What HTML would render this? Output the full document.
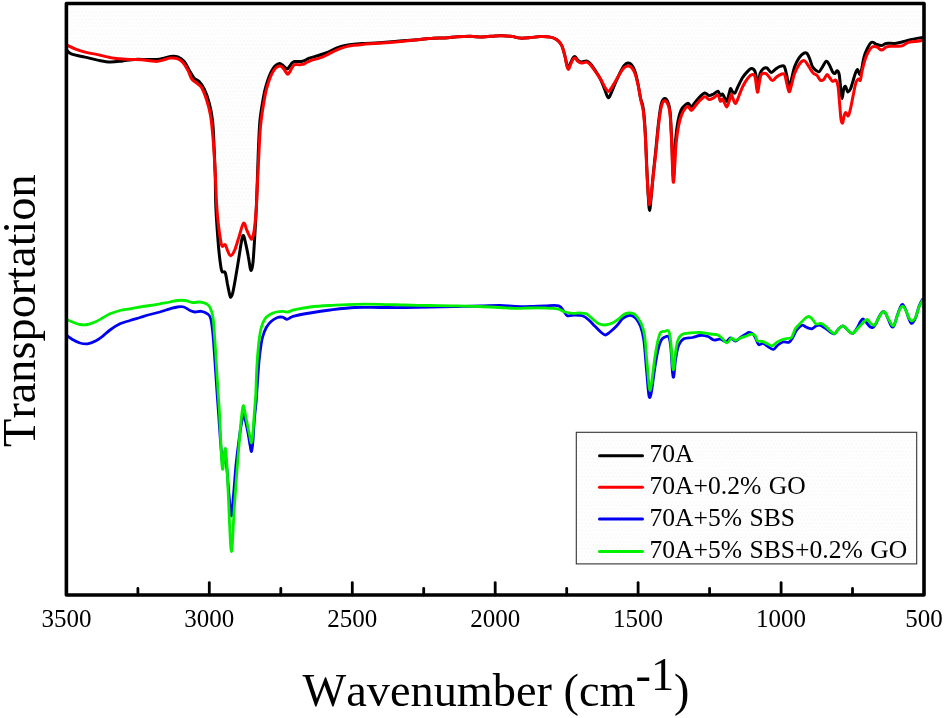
<!DOCTYPE html>
<html><head><meta charset="utf-8"><title>FTIR spectra</title>
<style>
html,body{margin:0;padding:0;background:#fff;}
body{width:944px;height:718px;overflow:hidden;}
svg{display:block;font-kerning:none;font-family:"Liberation Serif",serif;}
.c{fill:none;stroke-width:3;stroke-linejoin:round;stroke-linecap:round;}
</style></head><body>
<svg width="944" height="718" viewBox="0 0 944 718">
<rect width="944" height="718" fill="#fff"/>
<defs><pattern id="st" width="3.6" height="7.2" patternUnits="userSpaceOnUse"><rect width="3.6" height="7.2" fill="#fefefe"/><rect x="0.6" y="0.8" width="1" height="1.2" fill="#f4f2f2"/><rect x="2.4" y="4.4" width="1" height="1.2" fill="#f4f2f2"/></pattern></defs>
<path d="M66.8,45.1C68.2,45.7 72.0,47.6 75.0,48.8C78.0,50.0 81.3,51.1 85.1,52.1C88.9,53.1 93.4,53.7 97.6,54.6C101.8,55.5 106.0,56.9 110.2,57.6C114.4,58.4 118.5,58.8 122.7,59.1C126.9,59.4 131.0,59.4 135.2,59.6C139.4,59.8 144.2,60.1 147.8,60.4C151.4,60.7 154.1,61.4 156.6,61.4C159.1,61.4 160.5,60.6 162.8,60.1C165.1,59.6 167.9,58.3 170.4,58.1C172.9,57.9 175.8,58.1 177.9,58.9C180.0,59.6 181.2,60.7 182.9,62.6C184.6,64.5 186.4,67.5 187.9,70.2C189.4,72.9 190.2,76.7 191.7,78.9C193.2,81.1 195.0,81.7 196.7,83.2C198.4,84.7 200.0,84.9 201.7,87.7C203.4,90.5 205.2,95.7 206.7,100.3C208.2,104.9 209.4,109.0 210.5,115.3C211.6,121.6 212.2,128.5 213.0,137.9C213.8,147.3 214.6,160.7 215.2,172.0C215.8,183.3 216.1,196.7 216.7,205.7C217.2,214.7 217.8,219.9 218.5,225.8C219.2,231.8 220.2,238.0 220.8,241.4C221.4,244.8 221.6,245.8 222.3,246.3C223.0,246.9 224.3,243.8 225.2,244.7C226.1,245.5 227.0,249.6 227.9,251.4C228.8,253.2 229.5,256.0 230.6,255.8C231.7,255.6 233.2,253.5 234.6,250.3C236.0,247.2 237.5,241.4 239.0,236.9C240.5,232.4 242.2,224.2 243.5,223.1C244.8,222.0 245.7,227.8 246.8,230.2C247.9,232.6 249.3,236.0 250.2,237.4C251.1,238.8 251.3,239.9 252.0,238.7C252.7,237.5 253.5,234.9 254.2,230.2C254.9,225.4 255.6,218.6 256.2,210.2C256.8,201.8 257.2,188.4 257.6,180.0C258.0,171.6 258.1,169.1 258.6,160.0C259.1,150.9 259.6,135.4 260.6,125.3C261.6,115.2 263.3,105.6 264.4,99.3C265.4,93.0 265.9,91.2 266.9,87.5C267.9,83.8 269.2,80.1 270.3,77.3C271.4,74.5 272.6,72.2 273.7,70.5C274.8,68.8 276.0,67.6 277.1,66.9C278.2,66.2 279.5,65.9 280.5,66.1C281.5,66.3 282.2,67.0 283.1,68.0C284.0,69.0 284.8,70.8 285.6,71.8C286.4,72.8 287.0,74.3 287.7,74.3C288.4,74.3 289.0,73.0 289.8,71.8C290.6,70.6 291.5,68.3 292.4,67.1C293.2,65.9 293.8,65.1 294.9,64.7C296.0,64.3 297.8,64.8 299.2,64.7C300.6,64.6 302.0,64.7 303.4,64.2C304.8,63.8 306.1,62.7 307.6,62.0C309.2,61.3 311.0,60.5 312.7,59.9C314.4,59.3 316.1,59.1 317.8,58.6C319.5,58.1 321.1,57.6 322.9,56.9C324.7,56.1 326.1,55.3 328.5,54.1C330.9,52.9 334.2,51.0 337.0,49.8C339.8,48.6 342.6,47.6 345.4,46.9C348.2,46.1 351.1,45.7 353.9,45.3C356.7,44.9 359.7,44.6 362.4,44.4C365.1,44.1 366.6,44.0 370.0,43.8C373.4,43.6 378.3,43.3 382.5,43.0C386.7,42.7 390.8,42.4 395.0,42.0C399.2,41.6 403.3,41.2 407.5,40.8C411.7,40.4 415.8,39.9 420.0,39.5C424.2,39.1 428.3,38.5 432.5,38.3C436.7,38.0 440.8,38.2 445.0,38.0C449.2,37.8 453.3,37.1 457.5,36.8C461.7,36.5 465.8,36.3 470.0,36.3C474.2,36.3 478.3,37.1 482.5,37.0C486.7,36.9 491.7,36.1 495.0,35.9C498.3,35.7 499.6,35.7 502.5,35.8C505.4,35.9 509.7,36.2 512.6,36.6C515.5,37.0 517.2,37.9 520.1,38.1C523.0,38.3 526.8,37.9 530.1,37.6C533.5,37.4 536.9,36.7 540.2,36.6C543.6,36.5 547.5,36.6 550.2,37.1C552.9,37.6 554.6,38.3 556.5,39.6C558.4,40.9 560.1,42.5 561.5,45.1C562.9,47.7 563.8,51.8 564.7,55.1C565.6,58.4 566.1,62.7 566.7,65.1C567.3,67.5 567.8,69.6 568.5,69.4C569.2,69.2 570.0,65.7 570.8,63.9C571.6,62.1 572.5,59.9 573.3,58.9C574.0,57.9 574.5,57.7 575.3,58.1C576.0,58.5 576.8,60.6 577.8,61.4C578.8,62.2 580.0,63.0 581.5,63.1C583.0,63.2 585.1,61.9 586.6,62.1C588.1,62.4 588.8,63.0 590.3,64.6C591.8,66.1 593.6,69.0 595.3,71.4C597.0,73.8 598.8,76.3 600.4,78.9C602.0,81.5 603.6,85.1 604.9,87.2C606.2,89.3 607.3,91.4 608.4,91.5C609.5,91.6 610.4,89.4 611.6,87.7C612.8,86.0 613.9,83.9 615.4,81.4C616.9,78.9 618.9,75.0 620.4,72.7C621.9,70.4 623.0,68.8 624.2,67.7C625.5,66.6 626.6,65.9 627.9,65.9C629.1,65.9 630.5,66.4 631.7,67.7C632.9,69.0 634.1,70.8 635.2,73.9C636.3,77.0 637.4,82.0 638.4,86.5C639.4,91.0 640.2,96.9 641.0,101.0C641.8,105.1 642.6,105.5 643.3,111.0C644.0,116.5 644.6,124.5 645.2,134.0C645.8,143.5 646.2,157.9 646.7,168.0C647.2,178.1 647.8,188.7 648.3,194.8C648.8,200.9 649.1,204.8 649.6,204.8C650.1,204.8 650.6,199.8 651.2,194.8C651.8,189.8 652.5,182.5 653.4,174.7C654.2,166.9 655.4,156.9 656.3,148.0C657.2,139.1 658.1,128.3 659.0,121.3C659.9,114.2 660.7,109.1 661.6,105.7C662.5,102.3 663.5,101.0 664.5,100.8C665.5,100.6 667.0,102.2 667.9,104.5C668.8,106.8 669.5,108.1 670.1,114.6C670.7,121.1 671.2,133.1 671.7,143.5C672.2,153.9 672.5,170.7 672.8,177.0C673.1,183.3 673.4,182.9 673.7,181.4C674.0,179.9 674.2,174.3 674.6,168.0C675.0,161.7 675.4,150.6 676.1,143.5C676.8,136.4 677.7,130.5 678.6,125.7C679.5,120.9 680.5,117.6 681.7,114.6C682.9,111.6 684.6,109.2 685.7,107.9C686.8,106.6 687.5,106.3 688.4,106.8C689.3,107.2 690.3,110.6 691.3,110.6C692.3,110.6 693.3,108.4 694.6,106.8C695.9,105.2 697.4,102.9 699.1,101.2C700.8,99.5 703.0,97.0 704.7,96.7C706.4,96.4 707.6,99.2 709.1,99.4C710.6,99.6 712.1,98.6 713.6,97.9C715.1,97.2 716.9,94.5 718.0,95.0C719.1,95.5 719.5,100.5 720.3,101.2C721.0,101.9 721.8,98.6 722.5,99.0C723.2,99.4 724.0,102.1 724.7,103.4C725.4,104.7 726.1,107.2 726.9,106.8C727.6,106.4 728.5,103.2 729.2,101.2C729.9,99.2 730.6,95.0 731.2,94.6C731.8,94.1 732.1,97.0 732.9,98.5C733.6,100.0 734.7,103.9 735.7,103.4C736.7,102.9 737.8,98.6 739.0,95.7C740.2,92.8 741.5,88.9 743.0,86.0C744.5,83.1 746.2,80.1 747.8,78.2C749.3,76.3 751.1,74.8 752.3,74.6C753.5,74.4 754.2,74.4 755.0,76.8C755.8,79.2 756.3,86.6 756.8,89.1C757.3,91.6 757.5,92.9 757.9,91.8C758.3,90.7 758.8,85.3 759.4,82.4C760.0,79.5 760.2,76.1 761.2,74.6C762.2,73.1 764.4,73.1 765.7,73.5C767.0,73.9 767.9,75.6 769.0,76.8C770.1,78.0 771.1,80.6 772.4,80.6C773.7,80.6 775.3,77.9 776.8,76.8C778.3,75.7 780.0,74.6 781.3,74.2C782.6,73.8 783.7,73.0 784.6,74.6C785.5,76.1 786.0,80.6 786.8,83.5C787.5,86.4 788.4,91.4 789.1,91.8C789.9,92.2 790.4,88.8 791.3,85.8C792.2,82.8 793.3,77.0 794.6,73.5C795.9,70.0 797.6,66.8 799.1,64.6C800.6,62.4 802.3,60.8 803.6,60.6C804.9,60.4 805.8,62.1 806.9,63.5C808.0,64.9 809.2,67.3 810.3,69.0C811.4,70.7 812.5,72.5 813.6,73.5C814.7,74.5 815.8,74.2 816.9,75.3C818.0,76.4 819.2,79.5 820.3,80.2C821.4,80.9 822.5,80.6 823.6,79.7C824.7,78.8 826.0,74.9 827.0,74.6C828.0,74.3 829.0,76.9 829.9,78.0C830.8,79.1 831.5,80.9 832.5,81.3C833.5,81.7 835.0,79.3 835.9,80.2C836.8,81.1 837.5,82.8 838.1,86.9C838.7,91.0 839.2,99.3 839.7,104.7C840.2,110.1 840.5,116.2 841.0,119.2C841.5,122.2 842.1,123.5 842.6,123.0C843.1,122.5 843.6,117.7 844.1,115.9C844.6,114.2 845.2,112.5 845.9,112.5C846.6,112.5 847.5,116.5 848.2,115.9C849.0,115.4 849.6,112.6 850.4,109.2C851.2,105.8 852.2,100.3 853.1,95.8C854.0,91.3 855.1,85.2 856.0,82.4C856.9,79.6 857.5,79.5 858.2,79.1C858.9,78.7 859.8,81.5 860.4,80.2C861.0,78.9 861.2,74.6 862.0,71.3C862.8,68.0 863.9,63.3 864.9,60.1C865.9,56.9 866.9,54.5 868.2,52.3C869.5,50.1 871.2,47.6 872.7,46.8C874.2,45.9 875.6,46.7 877.1,47.2C878.6,47.8 880.1,50.1 881.6,50.1C883.1,50.1 884.6,47.8 886.1,47.2C887.6,46.6 888.6,46.4 890.5,46.3C892.4,46.1 895.2,46.4 897.2,46.3C899.2,46.2 900.9,46.3 902.8,45.6C904.6,44.9 906.3,43.0 908.3,42.3C910.3,41.6 912.6,41.9 915.0,41.6C917.4,41.3 921.2,40.7 922.5,40.5L922.5,10L66.8,10Z" fill="url(#st)" stroke="none"/>
<path d="M66.8,319.5C67.8,319.9 70.3,321.2 72.5,322.0C74.7,322.8 77.5,324.1 80.0,324.5C82.5,324.9 85.0,324.9 87.5,324.5C90.0,324.1 92.5,323.1 95.0,322.0C97.5,320.9 100.0,319.4 102.5,318.0C105.0,316.6 107.1,315.1 110.0,313.8C112.9,312.6 116.7,311.3 120.0,310.5C123.3,309.7 126.7,309.4 130.0,308.8C133.3,308.2 136.7,307.6 140.0,307.0C143.3,306.4 146.7,306.0 150.0,305.5C153.3,305.0 156.7,304.4 160.0,303.8C163.3,303.2 167.1,302.6 170.0,302.0C172.9,301.4 175.0,300.8 177.5,300.5C180.0,300.2 182.5,300.2 185.0,300.5C187.5,300.8 190.0,302.2 192.5,302.5C195.0,302.8 197.7,301.8 200.0,302.0C202.3,302.2 204.6,302.9 206.3,303.8C208.0,304.7 208.9,305.2 210.0,307.5C211.1,309.8 212.2,311.7 213.0,317.5C213.8,323.3 214.7,338.3 215.0,342.5L215.0,362.5 L213.0,335.0 L210.8,318.8 L207.5,313.8 L201.3,311.3 L195.0,312.0 L190.0,310.5 L183.8,307.0 L177.5,307.0 L170.0,308.8 L160.0,312.0 L150.0,314.5 L140.0,317.5 L130.0,320.5 L120.0,323.8 L110.0,330.0 L102.5,336.3 L95.0,341.3 L87.5,343.8 L80.0,343.0 L72.5,339.5 L66.8,335.5Z" fill="url(#st)" stroke="none"/>
<path class="c" stroke="#000" d="M66.8,50.1C67.5,50.7 68.2,52.7 71.3,53.9C74.3,55.1 80.7,56.1 85.1,57.1C89.5,58.1 93.4,59.3 97.6,60.1C101.8,60.9 106.0,62.0 110.2,62.1C114.4,62.2 118.5,61.4 122.7,60.9C126.9,60.4 131.0,59.6 135.2,59.4C139.4,59.2 144.2,59.6 147.8,59.6C151.4,59.6 154.1,59.7 156.6,59.5C159.1,59.3 160.5,59.0 162.8,58.5C165.1,58.0 167.9,56.7 170.4,56.4C172.9,56.1 175.6,56.1 177.9,56.9C180.2,57.7 182.3,59.2 184.2,61.4C186.1,63.6 187.5,67.4 189.2,70.2C190.9,73.0 192.5,76.3 194.2,78.2C195.9,80.1 197.5,79.7 199.2,81.5C200.9,83.3 202.5,85.5 204.2,89.0C205.9,92.5 207.8,97.6 209.2,102.8C210.6,108.0 211.7,113.3 212.5,120.3C213.3,127.3 213.6,135.9 214.0,145.0C214.4,154.1 214.9,164.9 215.2,175.0C215.5,185.1 215.4,195.0 215.8,205.7C216.2,216.4 217.2,229.8 217.9,239.1C218.6,248.4 219.4,256.0 220.1,261.4C220.8,266.8 221.1,269.5 221.9,271.4C222.8,273.3 224.3,270.6 225.2,272.6C226.1,274.7 226.7,280.0 227.4,283.7C228.2,287.4 229.1,292.6 229.7,294.8C230.3,297.0 230.5,297.5 231.0,297.1C231.5,296.7 232.0,296.0 232.8,292.6C233.6,289.2 234.7,282.9 235.7,277.0C236.7,271.1 238.0,263.3 239.0,257.0C240.0,250.7 241.1,242.6 241.9,239.1C242.7,235.6 243.1,235.1 243.7,235.8C244.3,236.6 244.9,240.1 245.7,243.6C246.5,247.1 247.7,252.9 248.4,257.0C249.2,261.1 249.7,266.0 250.2,268.1C250.7,270.2 251.0,271.0 251.5,269.9C252.0,268.8 252.6,266.5 253.1,261.4C253.6,256.3 254.1,247.0 254.6,239.1C255.1,231.2 255.6,221.3 256.0,214.0C256.4,206.7 256.5,202.3 256.8,195.0C257.1,187.7 257.4,178.3 257.7,170.0C258.0,161.7 258.2,153.3 258.6,145.0C259.0,136.7 259.2,128.0 260.0,120.0C260.8,112.0 262.5,102.7 263.5,97.0C264.5,91.3 265.0,89.5 266.0,86.0C267.0,82.5 268.2,78.8 269.3,76.0C270.4,73.2 271.5,70.8 272.7,69.0C273.9,67.2 275.1,65.9 276.3,65.0C277.5,64.1 278.6,63.4 279.7,63.5C280.8,63.6 282.0,64.8 283.0,65.5C284.0,66.2 284.8,67.2 285.5,67.8C286.2,68.4 286.6,69.2 287.3,69.0C288.0,68.8 288.7,67.5 289.5,66.5C290.3,65.5 291.2,63.8 292.0,63.0C292.8,62.2 293.3,61.8 294.5,61.5C295.7,61.2 297.7,61.5 299.0,61.5C300.3,61.5 301.3,61.5 302.5,61.2C303.7,60.9 304.9,60.3 306.0,59.8C307.1,59.3 307.3,58.9 309.3,58.2C311.3,57.5 315.5,56.4 317.8,55.7C320.1,55.0 321.0,54.7 323.0,54.0C325.0,53.3 327.7,52.3 330.0,51.3C332.3,50.3 334.4,49.0 337.0,48.0C339.6,47.0 342.6,46.1 345.4,45.5C348.2,44.9 351.1,44.5 353.9,44.2C356.7,43.9 359.6,43.8 362.4,43.6C365.2,43.5 367.4,43.5 370.8,43.3C374.2,43.1 378.5,42.8 382.5,42.5C386.5,42.2 390.8,41.9 395.0,41.6C399.2,41.3 403.3,40.9 407.5,40.5C411.7,40.1 415.8,39.9 420.0,39.5C424.2,39.1 428.3,38.5 432.5,38.3C436.7,38.0 440.8,38.2 445.0,38.0C449.2,37.8 453.3,37.1 457.5,36.8C461.7,36.5 465.8,36.3 470.0,36.3C474.2,36.3 478.3,37.1 482.5,37.0C486.7,36.9 491.7,36.1 495.0,35.9C498.3,35.7 499.6,35.7 502.5,35.8C505.4,35.9 509.7,36.2 512.6,36.6C515.5,37.0 517.2,37.9 520.1,38.1C523.0,38.3 526.8,37.9 530.1,37.6C533.5,37.4 536.9,36.7 540.2,36.6C543.6,36.5 547.5,36.6 550.2,37.1C552.9,37.6 554.6,38.3 556.5,39.6C558.4,40.9 560.1,42.5 561.5,45.1C562.9,47.7 563.8,52.0 564.7,55.1C565.6,58.2 566.1,61.9 566.7,64.0C567.3,66.1 567.8,67.8 568.5,67.5C569.2,67.2 570.0,64.2 570.8,62.5C571.6,60.8 572.5,58.5 573.3,57.5C574.0,56.5 574.5,56.4 575.3,56.8C576.0,57.2 576.8,59.1 577.8,60.0C578.8,60.9 580.0,61.8 581.5,62.0C583.0,62.2 585.1,60.8 586.6,61.0C588.1,61.2 588.8,61.9 590.3,63.5C591.8,65.1 593.6,67.9 595.3,70.5C597.0,73.1 598.8,75.8 600.4,79.0C602.0,82.2 603.6,86.9 604.9,90.0C606.2,93.1 607.3,97.5 608.4,97.8C609.5,98.1 610.4,94.5 611.6,92.0C612.8,89.5 613.9,86.3 615.4,83.0C616.9,79.7 618.9,74.9 620.4,72.0C621.9,69.1 623.0,67.0 624.2,65.5C625.5,64.0 626.6,63.2 627.9,63.1C629.1,63.0 630.5,63.6 631.7,65.0C632.9,66.4 634.0,68.3 635.0,71.5C636.0,74.7 637.1,79.6 638.0,84.0C638.9,88.4 639.7,94.2 640.5,98.0C641.3,101.8 642.2,102.0 643.0,107.0C643.8,112.0 644.4,118.1 645.0,127.8C645.6,137.5 646.2,153.5 646.7,165.0C647.2,176.5 647.8,189.4 648.3,197.0C648.8,204.6 649.1,210.4 649.6,210.4C650.1,210.4 650.6,202.9 651.2,197.0C651.8,191.1 652.4,182.9 653.2,174.7C654.0,166.5 655.1,156.9 656.0,148.0C656.9,139.1 657.8,128.6 658.7,121.3C659.6,114.0 660.3,107.8 661.3,104.0C662.3,100.2 663.4,98.8 664.5,98.5C665.6,98.2 667.0,99.8 667.9,102.0C668.8,104.2 669.5,105.7 670.1,112.0C670.7,118.3 671.2,130.3 671.7,140.0C672.2,149.7 672.5,164.0 672.8,170.0C673.1,176.0 673.4,176.8 673.7,176.0C674.0,175.2 674.1,171.0 674.4,165.0C674.7,159.0 675.0,147.3 675.6,140.0C676.2,132.7 677.1,126.0 678.0,121.0C678.9,116.0 679.9,112.8 681.2,110.0C682.5,107.2 684.5,105.6 685.7,104.5C686.9,103.4 687.5,103.0 688.4,103.4C689.3,103.8 690.3,107.1 691.3,107.0C692.3,106.9 693.3,104.6 694.6,103.0C695.9,101.4 697.4,99.2 699.1,97.5C700.8,95.8 703.0,93.3 704.7,93.0C706.4,92.7 707.6,95.3 709.1,95.5C710.6,95.7 712.1,94.7 713.6,94.0C715.1,93.3 716.9,91.0 718.0,91.2C719.1,91.5 719.5,95.0 720.3,95.5C721.0,96.0 721.8,93.6 722.5,94.0C723.2,94.4 724.0,96.8 724.7,98.0C725.4,99.2 726.2,101.9 726.9,101.2C727.6,100.5 728.4,96.1 729.0,94.0C729.6,91.9 730.0,89.0 730.5,88.5C731.0,88.0 731.5,90.5 732.2,91.3C732.9,92.1 734.0,93.8 734.9,93.1C735.8,92.4 736.6,89.4 737.8,86.9C739.0,84.4 740.8,80.4 742.3,78.0C743.8,75.6 745.2,74.0 746.7,72.4C748.2,70.8 749.8,68.8 751.2,68.6C752.6,68.4 754.1,69.4 755.0,71.3C755.9,73.2 756.3,77.8 756.8,80.2C757.3,82.7 757.3,87.1 757.9,86.0C758.5,84.9 759.2,76.4 760.1,73.5C761.0,70.6 762.3,69.5 763.4,68.6C764.5,67.7 765.5,67.3 766.8,67.9C768.1,68.5 769.7,72.2 771.2,72.4C772.7,72.6 774.2,70.0 775.7,69.0C777.2,68.0 778.8,66.8 780.2,66.4C781.6,66.0 783.1,64.9 784.2,66.4C785.3,68.0 786.0,72.3 786.8,75.7C787.6,79.1 788.4,86.2 789.1,86.9C789.9,87.7 790.4,83.6 791.3,80.2C792.2,76.8 793.3,70.5 794.6,66.8C795.9,63.1 797.6,60.1 799.1,57.9C800.6,55.7 802.3,54.1 803.6,53.4C804.9,52.6 805.9,52.5 806.9,53.4C807.9,54.3 808.9,56.8 809.8,59.0C810.7,61.2 811.5,64.9 812.5,66.8C813.5,68.7 814.7,69.4 815.8,70.2C816.9,71.0 818.1,72.3 819.2,71.7C820.3,71.1 821.3,68.5 822.5,66.8C823.7,65.0 825.2,61.6 826.3,61.2C827.4,60.8 828.2,62.8 829.2,64.6C830.2,66.3 831.6,70.2 832.5,71.7C833.4,73.2 834.0,73.7 834.8,73.5C835.5,73.3 836.3,70.6 837.0,70.8C837.7,71.0 838.6,71.5 839.2,74.6C839.8,77.6 840.3,85.1 840.8,89.1C841.3,93.1 841.6,98.5 842.1,98.5C842.6,98.5 843.1,91.1 843.7,89.1C844.3,87.1 844.8,86.0 845.5,86.4C846.2,86.9 846.9,91.3 847.7,91.8C848.5,92.2 849.6,90.7 850.4,89.1C851.2,87.5 851.8,85.0 852.6,82.4C853.4,79.8 854.5,75.7 855.3,73.5C856.1,71.3 856.8,69.3 857.5,69.5C858.2,69.7 859.0,74.5 859.7,74.6C860.4,74.7 860.8,73.0 861.5,70.2C862.2,67.4 862.9,61.4 863.8,57.9C864.7,54.4 865.8,51.6 867.1,49.0C868.4,46.4 870.1,43.1 871.6,42.3C873.1,41.5 874.3,43.5 876.0,44.1C877.7,44.7 879.9,45.7 881.6,45.6C883.3,45.5 883.9,43.8 886.1,43.4C888.3,43.0 892.2,43.7 895.0,43.4C897.8,43.1 900.2,42.4 902.8,41.8C905.4,41.2 907.3,40.3 910.6,39.6C913.9,38.9 920.5,37.8 922.5,37.4"/>
<path class="c" stroke="#f00" d="M66.8,45.1C68.2,45.7 72.0,47.6 75.0,48.8C78.0,50.0 81.3,51.1 85.1,52.1C88.9,53.1 93.4,53.7 97.6,54.6C101.8,55.5 106.0,56.9 110.2,57.6C114.4,58.4 118.5,58.8 122.7,59.1C126.9,59.4 131.0,59.4 135.2,59.6C139.4,59.8 144.2,60.1 147.8,60.4C151.4,60.7 154.1,61.4 156.6,61.4C159.1,61.4 160.5,60.6 162.8,60.1C165.1,59.6 167.9,58.3 170.4,58.1C172.9,57.9 175.8,58.1 177.9,58.9C180.0,59.6 181.2,60.7 182.9,62.6C184.6,64.5 186.4,67.5 187.9,70.2C189.4,72.9 190.2,76.7 191.7,78.9C193.2,81.1 195.0,81.7 196.7,83.2C198.4,84.7 200.0,84.9 201.7,87.7C203.4,90.5 205.2,95.7 206.7,100.3C208.2,104.9 209.4,109.0 210.5,115.3C211.6,121.6 212.2,128.5 213.0,137.9C213.8,147.3 214.6,160.7 215.2,172.0C215.8,183.3 216.1,196.7 216.7,205.7C217.2,214.7 217.8,219.9 218.5,225.8C219.2,231.8 220.2,238.0 220.8,241.4C221.4,244.8 221.6,245.8 222.3,246.3C223.0,246.9 224.3,243.8 225.2,244.7C226.1,245.5 227.0,249.6 227.9,251.4C228.8,253.2 229.5,256.0 230.6,255.8C231.7,255.6 233.2,253.5 234.6,250.3C236.0,247.2 237.5,241.4 239.0,236.9C240.5,232.4 242.2,224.2 243.5,223.1C244.8,222.0 245.7,227.8 246.8,230.2C247.9,232.6 249.3,236.0 250.2,237.4C251.1,238.8 251.3,239.9 252.0,238.7C252.7,237.5 253.5,234.9 254.2,230.2C254.9,225.4 255.6,218.6 256.2,210.2C256.8,201.8 257.2,188.4 257.6,180.0C258.0,171.6 258.1,169.1 258.6,160.0C259.1,150.9 259.6,135.4 260.6,125.3C261.6,115.2 263.3,105.6 264.4,99.3C265.4,93.0 265.9,91.2 266.9,87.5C267.9,83.8 269.2,80.1 270.3,77.3C271.4,74.5 272.6,72.2 273.7,70.5C274.8,68.8 276.0,67.6 277.1,66.9C278.2,66.2 279.5,65.9 280.5,66.1C281.5,66.3 282.2,67.0 283.1,68.0C284.0,69.0 284.8,70.8 285.6,71.8C286.4,72.8 287.0,74.3 287.7,74.3C288.4,74.3 289.0,73.0 289.8,71.8C290.6,70.6 291.5,68.3 292.4,67.1C293.2,65.9 293.8,65.1 294.9,64.7C296.0,64.3 297.8,64.8 299.2,64.7C300.6,64.6 302.0,64.7 303.4,64.2C304.8,63.8 306.1,62.7 307.6,62.0C309.2,61.3 311.0,60.5 312.7,59.9C314.4,59.3 316.1,59.1 317.8,58.6C319.5,58.1 321.1,57.6 322.9,56.9C324.7,56.1 326.1,55.3 328.5,54.1C330.9,52.9 334.2,51.0 337.0,49.8C339.8,48.6 342.6,47.6 345.4,46.9C348.2,46.1 351.1,45.7 353.9,45.3C356.7,44.9 359.7,44.6 362.4,44.4C365.1,44.1 366.6,44.0 370.0,43.8C373.4,43.6 378.3,43.3 382.5,43.0C386.7,42.7 390.8,42.4 395.0,42.0C399.2,41.6 403.3,41.2 407.5,40.8C411.7,40.4 415.8,39.9 420.0,39.5C424.2,39.1 428.3,38.5 432.5,38.3C436.7,38.0 440.8,38.2 445.0,38.0C449.2,37.8 453.3,37.1 457.5,36.8C461.7,36.5 465.8,36.3 470.0,36.3C474.2,36.3 478.3,37.1 482.5,37.0C486.7,36.9 491.7,36.1 495.0,35.9C498.3,35.7 499.6,35.7 502.5,35.8C505.4,35.9 509.7,36.2 512.6,36.6C515.5,37.0 517.2,37.9 520.1,38.1C523.0,38.3 526.8,37.9 530.1,37.6C533.5,37.4 536.9,36.7 540.2,36.6C543.6,36.5 547.5,36.6 550.2,37.1C552.9,37.6 554.6,38.3 556.5,39.6C558.4,40.9 560.1,42.5 561.5,45.1C562.9,47.7 563.8,51.8 564.7,55.1C565.6,58.4 566.1,62.7 566.7,65.1C567.3,67.5 567.8,69.6 568.5,69.4C569.2,69.2 570.0,65.7 570.8,63.9C571.6,62.1 572.5,59.9 573.3,58.9C574.0,57.9 574.5,57.7 575.3,58.1C576.0,58.5 576.8,60.6 577.8,61.4C578.8,62.2 580.0,63.0 581.5,63.1C583.0,63.2 585.1,61.9 586.6,62.1C588.1,62.4 588.8,63.0 590.3,64.6C591.8,66.1 593.6,69.0 595.3,71.4C597.0,73.8 598.8,76.3 600.4,78.9C602.0,81.5 603.6,85.1 604.9,87.2C606.2,89.3 607.3,91.4 608.4,91.5C609.5,91.6 610.4,89.4 611.6,87.7C612.8,86.0 613.9,83.9 615.4,81.4C616.9,78.9 618.9,75.0 620.4,72.7C621.9,70.4 623.0,68.8 624.2,67.7C625.5,66.6 626.6,65.9 627.9,65.9C629.1,65.9 630.5,66.4 631.7,67.7C632.9,69.0 634.1,70.8 635.2,73.9C636.3,77.0 637.4,82.0 638.4,86.5C639.4,91.0 640.2,96.9 641.0,101.0C641.8,105.1 642.6,105.5 643.3,111.0C644.0,116.5 644.6,124.5 645.2,134.0C645.8,143.5 646.2,157.9 646.7,168.0C647.2,178.1 647.8,188.7 648.3,194.8C648.8,200.9 649.1,204.8 649.6,204.8C650.1,204.8 650.6,199.8 651.2,194.8C651.8,189.8 652.5,182.5 653.4,174.7C654.2,166.9 655.4,156.9 656.3,148.0C657.2,139.1 658.1,128.3 659.0,121.3C659.9,114.2 660.7,109.1 661.6,105.7C662.5,102.3 663.5,101.0 664.5,100.8C665.5,100.6 667.0,102.2 667.9,104.5C668.8,106.8 669.5,108.1 670.1,114.6C670.7,121.1 671.2,133.1 671.7,143.5C672.2,153.9 672.5,170.7 672.8,177.0C673.1,183.3 673.4,182.9 673.7,181.4C674.0,179.9 674.2,174.3 674.6,168.0C675.0,161.7 675.4,150.6 676.1,143.5C676.8,136.4 677.7,130.5 678.6,125.7C679.5,120.9 680.5,117.6 681.7,114.6C682.9,111.6 684.6,109.2 685.7,107.9C686.8,106.6 687.5,106.3 688.4,106.8C689.3,107.2 690.3,110.6 691.3,110.6C692.3,110.6 693.3,108.4 694.6,106.8C695.9,105.2 697.4,102.9 699.1,101.2C700.8,99.5 703.0,97.0 704.7,96.7C706.4,96.4 707.6,99.2 709.1,99.4C710.6,99.6 712.1,98.6 713.6,97.9C715.1,97.2 716.9,94.5 718.0,95.0C719.1,95.5 719.5,100.5 720.3,101.2C721.0,101.9 721.8,98.6 722.5,99.0C723.2,99.4 724.0,102.1 724.7,103.4C725.4,104.7 726.1,107.2 726.9,106.8C727.6,106.4 728.5,103.2 729.2,101.2C729.9,99.2 730.6,95.0 731.2,94.6C731.8,94.1 732.1,97.0 732.9,98.5C733.6,100.0 734.7,103.9 735.7,103.4C736.7,102.9 737.8,98.6 739.0,95.7C740.2,92.8 741.5,88.9 743.0,86.0C744.5,83.1 746.2,80.1 747.8,78.2C749.3,76.3 751.1,74.8 752.3,74.6C753.5,74.4 754.2,74.4 755.0,76.8C755.8,79.2 756.3,86.6 756.8,89.1C757.3,91.6 757.5,92.9 757.9,91.8C758.3,90.7 758.8,85.3 759.4,82.4C760.0,79.5 760.2,76.1 761.2,74.6C762.2,73.1 764.4,73.1 765.7,73.5C767.0,73.9 767.9,75.6 769.0,76.8C770.1,78.0 771.1,80.6 772.4,80.6C773.7,80.6 775.3,77.9 776.8,76.8C778.3,75.7 780.0,74.6 781.3,74.2C782.6,73.8 783.7,73.0 784.6,74.6C785.5,76.1 786.0,80.6 786.8,83.5C787.5,86.4 788.4,91.4 789.1,91.8C789.9,92.2 790.4,88.8 791.3,85.8C792.2,82.8 793.3,77.0 794.6,73.5C795.9,70.0 797.6,66.8 799.1,64.6C800.6,62.4 802.3,60.8 803.6,60.6C804.9,60.4 805.8,62.1 806.9,63.5C808.0,64.9 809.2,67.3 810.3,69.0C811.4,70.7 812.5,72.5 813.6,73.5C814.7,74.5 815.8,74.2 816.9,75.3C818.0,76.4 819.2,79.5 820.3,80.2C821.4,80.9 822.5,80.6 823.6,79.7C824.7,78.8 826.0,74.9 827.0,74.6C828.0,74.3 829.0,76.9 829.9,78.0C830.8,79.1 831.5,80.9 832.5,81.3C833.5,81.7 835.0,79.3 835.9,80.2C836.8,81.1 837.5,82.8 838.1,86.9C838.7,91.0 839.2,99.3 839.7,104.7C840.2,110.1 840.5,116.2 841.0,119.2C841.5,122.2 842.1,123.5 842.6,123.0C843.1,122.5 843.6,117.7 844.1,115.9C844.6,114.2 845.2,112.5 845.9,112.5C846.6,112.5 847.5,116.5 848.2,115.9C849.0,115.4 849.6,112.6 850.4,109.2C851.2,105.8 852.2,100.3 853.1,95.8C854.0,91.3 855.1,85.2 856.0,82.4C856.9,79.6 857.5,79.5 858.2,79.1C858.9,78.7 859.8,81.5 860.4,80.2C861.0,78.9 861.2,74.6 862.0,71.3C862.8,68.0 863.9,63.3 864.9,60.1C865.9,56.9 866.9,54.5 868.2,52.3C869.5,50.1 871.2,47.6 872.7,46.8C874.2,45.9 875.6,46.7 877.1,47.2C878.6,47.8 880.1,50.1 881.6,50.1C883.1,50.1 884.6,47.8 886.1,47.2C887.6,46.6 888.6,46.4 890.5,46.3C892.4,46.1 895.2,46.4 897.2,46.3C899.2,46.2 900.9,46.3 902.8,45.6C904.6,44.9 906.3,43.0 908.3,42.3C910.3,41.6 912.6,41.9 915.0,41.6C917.4,41.3 921.2,40.7 922.5,40.5"/>
<path class="c" style="stroke-width:2.8" stroke="#0000f0" d="M66.8,335.5C67.8,336.2 70.3,338.2 72.5,339.5C74.7,340.8 77.5,342.3 80.0,343.0C82.5,343.7 85.0,344.1 87.5,343.8C90.0,343.5 92.5,342.6 95.0,341.3C97.5,340.1 100.0,338.2 102.5,336.3C105.0,334.4 107.1,332.1 110.0,330.0C112.9,327.9 116.7,325.4 120.0,323.8C123.3,322.2 126.7,321.6 130.0,320.5C133.3,319.4 136.7,318.5 140.0,317.5C143.3,316.5 146.7,315.4 150.0,314.5C153.3,313.6 156.7,312.9 160.0,312.0C163.3,311.1 167.1,309.6 170.0,308.8C172.9,308.0 175.2,307.3 177.5,307.0C179.8,306.7 181.7,306.4 183.8,307.0C185.9,307.6 188.1,309.7 190.0,310.5C191.9,311.3 193.1,311.9 195.0,312.0C196.9,312.1 199.2,311.0 201.3,311.3C203.4,311.6 205.9,312.6 207.5,313.8C209.1,315.1 209.9,315.3 210.8,318.8C211.7,322.3 212.3,327.7 213.0,335.0C213.7,342.3 214.3,352.9 215.0,362.5C215.7,372.1 216.3,382.9 217.0,392.5C217.7,402.1 218.4,411.2 219.0,420.0C219.6,428.8 220.2,438.0 220.8,445.0C221.4,452.0 221.8,459.3 222.3,462.0C222.8,464.7 223.5,461.8 224.0,461.0C224.5,460.2 225.0,455.5 225.5,457.0C226.0,458.5 226.4,463.7 227.0,470.0C227.6,476.3 228.3,487.3 229.0,495.0C229.7,502.7 230.7,516.0 231.4,516.0C232.2,516.0 232.7,503.5 233.5,495.0C234.3,486.5 235.1,474.2 236.0,465.0C236.9,455.8 238.1,447.2 239.0,440.0C239.9,432.8 240.9,426.3 241.7,422.0C242.5,417.7 243.0,414.2 243.6,414.0C244.2,413.8 244.8,417.8 245.5,421.0C246.2,424.2 247.2,429.0 248.0,433.0C248.8,437.0 249.4,441.9 250.0,445.0C250.6,448.1 251.0,451.8 251.5,451.5C252.0,451.2 252.3,448.6 252.8,443.0C253.3,437.4 253.9,425.2 254.5,418.0C255.1,410.8 255.7,408.0 256.3,400.0C256.9,392.0 257.7,377.9 258.3,370.0C258.9,362.1 259.3,357.9 260.0,352.5C260.7,347.1 261.4,341.7 262.5,337.5C263.6,333.3 264.8,330.2 266.3,327.5C267.8,324.8 269.4,323.0 271.3,321.3C273.2,319.6 275.6,318.2 277.5,317.5C279.4,316.8 280.9,316.9 282.5,317.2C284.1,317.5 285.6,319.3 287.0,319.3C288.4,319.3 289.7,317.9 291.0,317.3C292.3,316.7 291.8,316.5 295.0,315.8C298.2,315.1 304.2,314.0 310.0,313.0C315.8,312.0 322.5,310.9 330.0,310.0C337.5,309.1 346.7,307.9 355.0,307.5C363.3,307.1 371.7,307.5 380.0,307.5C388.3,307.5 396.7,307.6 405.0,307.5C413.3,307.4 421.7,307.2 430.0,307.0C438.3,306.8 446.7,306.7 455.0,306.5C463.3,306.3 472.5,306.2 480.0,306.0C487.5,305.8 494.2,305.2 500.0,305.3C505.8,305.4 510.0,306.1 515.0,306.3C520.0,306.5 525.0,306.6 530.0,306.5C535.0,306.4 540.2,305.9 545.0,305.8C549.8,305.7 555.7,304.9 558.8,305.8C561.9,306.7 562.3,309.6 563.8,311.3C565.2,313.0 565.6,315.2 567.5,315.8C569.4,316.4 572.5,315.0 575.0,315.0C577.5,315.0 580.2,315.0 582.5,315.8C584.8,316.6 586.7,318.2 588.8,320.0C590.9,321.8 592.9,324.2 595.0,326.3C597.1,328.4 599.5,331.1 601.3,332.5C603.0,333.9 604.0,335.1 605.5,335.0C607.0,334.9 608.2,333.4 610.0,332.0C611.8,330.6 614.2,328.5 616.3,326.3C618.4,324.1 620.6,320.6 622.5,318.8C624.4,317.1 625.8,316.3 627.5,315.8C629.2,315.3 631.0,315.3 632.5,315.8C634.0,316.3 635.0,317.1 636.3,318.8C637.6,320.6 639.2,322.8 640.5,326.3C641.8,329.8 642.8,333.1 643.8,340.0C644.8,346.9 645.5,358.8 646.3,367.5C647.1,376.2 647.9,387.5 648.5,392.5C649.1,397.5 649.5,397.9 650.0,397.5C650.5,397.1 651.0,394.6 651.8,390.0C652.5,385.4 653.5,376.7 654.5,370.0C655.5,363.3 656.9,355.0 658.0,350.0C659.1,345.0 660.1,342.2 661.3,340.0C662.5,337.8 663.8,337.5 665.0,337.0C666.2,336.5 667.8,335.2 668.8,337.0C669.8,338.8 670.2,341.6 670.8,347.5C671.4,353.4 672.0,367.7 672.5,372.5C673.0,377.3 673.3,378.4 673.8,376.3C674.3,374.2 674.7,365.2 675.5,360.0C676.3,354.8 677.4,348.5 678.8,345.0C680.2,341.5 681.5,340.1 683.8,338.8C686.1,337.6 689.8,338.1 692.5,337.5C695.2,336.9 697.5,335.7 700.0,335.5C702.5,335.3 705.2,335.6 707.5,336.3C709.8,337.1 711.7,339.5 713.8,340.0C715.9,340.5 717.9,338.9 720.0,339.2C722.1,339.4 724.5,341.7 726.3,341.5C728.0,341.3 729.0,338.1 730.5,338.0C732.0,337.9 733.9,341.1 735.6,341.0C737.3,340.9 738.8,338.7 740.5,337.5C742.2,336.3 744.6,334.9 746.0,334.0C747.4,333.1 747.8,332.4 749.0,332.4C750.2,332.4 751.9,333.1 753.0,334.0C754.1,334.9 754.5,336.2 755.5,338.0C756.5,339.8 757.5,343.7 758.7,344.6C760.0,345.5 761.5,343.2 763.0,343.5C764.5,343.8 766.3,345.5 768.0,346.5C769.7,347.5 771.7,349.6 773.4,349.4C775.1,349.1 776.4,346.2 778.0,345.0C779.6,343.8 781.1,342.5 783.0,342.0C784.9,341.5 787.6,342.8 789.2,342.1C790.8,341.4 791.4,339.9 792.5,338.0C793.6,336.1 794.8,332.9 796.0,331.0C797.2,329.1 798.9,327.5 800.0,326.5C801.1,325.5 801.6,325.0 802.6,325.1C803.6,325.2 805.0,326.5 806.0,327.0C807.0,327.5 807.7,327.9 808.7,328.2C809.8,328.5 811.1,329.1 812.3,328.7C813.5,328.3 814.8,326.6 816.0,326.0C817.2,325.4 818.0,324.7 819.6,325.1C821.2,325.5 823.7,327.2 825.7,328.5C827.7,329.8 830.2,332.3 831.8,333.1C833.3,333.9 833.9,334.2 835.0,333.5C836.1,332.8 837.4,330.0 838.7,328.7C840.0,327.4 841.5,325.8 842.8,325.8C844.1,325.8 845.3,327.6 846.5,328.7C847.7,329.8 849.0,331.7 850.1,332.4C851.2,333.1 852.1,333.9 853.3,333.1C854.5,332.3 856.2,329.4 857.4,327.5C858.6,325.6 859.6,322.9 860.5,321.5C861.4,320.1 862.1,318.9 863.0,319.0C863.9,319.1 864.9,320.8 866.0,322.0C867.1,323.2 868.5,325.4 869.6,326.3C870.7,327.2 871.7,328.0 872.8,327.5C873.9,327.0 875.0,325.1 876.0,323.5C877.0,321.9 877.5,319.8 878.5,318.0C879.5,316.2 880.7,313.4 881.8,312.5C882.9,311.6 884.0,311.5 885.0,312.5C886.0,313.5 886.8,316.2 887.9,318.5C889.0,320.8 890.5,325.1 891.5,326.3C892.5,327.5 893.1,327.5 894.0,325.8C894.9,324.1 896.1,319.0 897.1,316.0C898.1,313.0 899.1,309.9 900.0,308.0C900.9,306.1 901.5,304.1 902.5,304.4C903.5,304.7 904.7,307.6 905.8,310.0C906.9,312.4 908.0,316.8 909.0,319.0C910.0,321.2 910.7,323.6 911.8,323.4C912.9,323.2 914.3,320.7 915.5,318.0C916.7,315.3 917.7,310.1 918.8,307.0C919.9,303.9 921.7,300.8 922.3,299.5"/>
<path class="c" style="stroke-width:2.8" stroke="#00f000" d="M66.8,319.5C67.8,319.9 70.3,321.2 72.5,322.0C74.7,322.8 77.5,324.1 80.0,324.5C82.5,324.9 85.0,324.9 87.5,324.5C90.0,324.1 92.5,323.1 95.0,322.0C97.5,320.9 100.0,319.4 102.5,318.0C105.0,316.6 107.1,315.1 110.0,313.8C112.9,312.6 116.7,311.3 120.0,310.5C123.3,309.7 126.7,309.4 130.0,308.8C133.3,308.2 136.7,307.6 140.0,307.0C143.3,306.4 146.7,306.0 150.0,305.5C153.3,305.0 156.7,304.4 160.0,303.8C163.3,303.2 167.1,302.6 170.0,302.0C172.9,301.4 175.0,300.8 177.5,300.5C180.0,300.2 182.5,300.2 185.0,300.5C187.5,300.8 190.0,302.2 192.5,302.5C195.0,302.8 197.7,301.8 200.0,302.0C202.3,302.2 204.6,302.9 206.3,303.8C208.0,304.7 208.9,305.2 210.0,307.5C211.1,309.8 212.2,311.7 213.0,317.5C213.8,323.3 214.3,332.9 215.0,342.5C215.7,352.1 216.5,366.8 217.0,375.0C217.5,383.2 217.7,385.3 218.1,392.0C218.5,398.7 219.2,407.4 219.6,415.1C220.0,422.8 220.2,429.7 220.6,438.0C221.0,446.3 221.6,460.0 222.0,465.0C222.4,470.0 222.6,470.2 223.0,468.2C223.4,466.2 223.9,456.2 224.3,453.0C224.7,449.8 225.1,447.3 225.5,449.0C225.9,450.7 226.3,455.3 226.8,463.0C227.3,470.7 227.8,484.6 228.3,495.0C228.8,505.4 229.2,517.0 229.6,525.3C230.0,533.6 230.3,540.6 230.6,545.0C230.9,549.4 231.0,551.5 231.3,551.5C231.6,551.5 231.8,552.1 232.3,545.0C232.8,537.9 233.4,521.7 234.2,509.0C235.0,496.3 236.2,481.3 237.1,469.0C238.0,456.7 239.0,444.4 239.8,435.0C240.6,425.6 241.4,417.4 242.0,412.5C242.6,407.6 243.1,405.4 243.6,405.5C244.1,405.6 244.5,409.9 245.1,413.0C245.7,416.1 246.5,420.2 247.3,424.0C248.1,427.8 249.0,432.3 249.7,435.5C250.4,438.7 250.8,443.1 251.3,443.0C251.8,442.9 252.2,440.2 252.7,435.0C253.2,429.8 253.9,418.7 254.4,412.0C254.9,405.3 255.3,402.4 255.7,395.0C256.1,387.6 256.3,376.2 256.8,367.5C257.3,358.8 258.1,349.2 258.8,342.5C259.6,335.8 260.3,331.4 261.3,327.5C262.3,323.6 263.6,321.0 265.0,318.8C266.4,316.6 268.1,315.6 270.0,314.5C271.9,313.4 274.2,312.5 276.3,312.0C278.4,311.5 280.6,311.3 282.5,311.3C284.4,311.3 285.4,312.3 287.5,312.0C289.6,311.7 291.2,310.5 295.0,309.7C298.8,308.9 304.2,307.7 310.0,307.0C315.8,306.3 322.5,305.9 330.0,305.5C337.5,305.1 346.7,304.5 355.0,304.3C363.3,304.1 371.7,304.2 380.0,304.3C388.3,304.4 396.7,304.8 405.0,305.0C413.3,305.2 421.7,305.4 430.0,305.5C438.3,305.6 446.7,305.6 455.0,305.8C463.3,306.0 472.5,306.2 480.0,306.5C487.5,306.8 494.2,307.2 500.0,307.5C505.8,307.8 510.0,308.2 515.0,308.3C520.0,308.4 525.0,308.1 530.0,308.0C535.0,307.9 540.4,307.9 545.0,308.0C549.6,308.1 554.2,308.1 557.5,308.8C560.8,309.5 562.5,311.2 565.0,312.0C567.5,312.8 570.0,313.1 572.5,313.3C575.0,313.5 577.7,312.9 580.0,313.0C582.3,313.1 584.2,312.8 586.3,313.8C588.4,314.8 590.4,317.1 592.5,318.8C594.6,320.5 596.7,322.8 598.8,323.8C600.9,324.8 602.7,325.1 605.0,325.0C607.3,324.9 610.2,324.0 612.5,323.0C614.8,322.0 616.9,320.2 618.8,318.8C620.7,317.4 622.1,315.5 623.8,314.5C625.5,313.5 627.1,313.1 628.8,313.0C630.5,312.9 632.3,313.1 633.8,313.8C635.2,314.6 636.2,315.8 637.5,317.5C638.8,319.2 640.1,320.9 641.3,323.8C642.5,326.7 643.5,328.6 644.5,335.0C645.5,341.4 646.2,354.2 647.0,362.5C647.8,370.8 648.5,380.4 649.0,385.0C649.5,389.6 649.8,390.8 650.3,390.0C650.8,389.2 651.3,385.0 652.0,380.0C652.7,375.0 653.6,366.2 654.5,360.0C655.4,353.8 656.5,347.1 657.5,342.5C658.5,337.9 659.2,334.4 660.5,332.5C661.8,330.6 663.6,331.5 665.0,331.3C666.4,331.1 667.8,329.4 668.8,331.3C669.8,333.2 670.2,336.9 670.8,342.5C671.4,348.1 672.0,360.6 672.5,365.0C673.0,369.4 673.3,370.9 673.8,368.8C674.3,366.7 674.8,357.3 675.5,352.5C676.2,347.7 676.9,343.0 678.0,340.0C679.1,337.0 680.0,335.7 682.0,334.5C684.0,333.3 687.0,333.3 690.0,333.0C693.0,332.7 696.7,332.3 700.0,332.5C703.3,332.7 707.1,333.6 710.0,334.0C712.9,334.4 715.3,334.1 717.3,334.8C719.3,335.6 720.6,337.1 722.2,338.5C723.8,339.9 725.6,343.0 727.1,342.9C728.6,342.8 730.0,338.4 731.4,338.0C732.8,337.6 734.1,340.4 735.6,340.4C737.1,340.4 738.7,338.7 740.5,338.0C742.3,337.3 744.7,336.6 746.5,336.0C748.3,335.4 750.0,334.2 751.4,334.1C752.8,334.0 754.1,334.5 755.1,335.6C756.1,336.7 756.3,339.9 757.5,340.9C758.7,341.9 760.8,340.9 762.4,341.4C764.0,341.9 765.7,343.1 767.3,343.8C768.9,344.5 770.5,346.1 772.1,345.8C773.7,345.5 775.4,343.1 777.0,342.1C778.6,341.1 780.3,340.3 781.9,339.7C783.5,339.1 785.2,338.9 786.8,338.5C788.4,338.1 790.2,338.9 791.6,337.3C793.0,335.7 793.9,331.0 795.3,328.7C796.7,326.4 798.6,325.1 800.2,323.4C801.8,321.7 803.6,319.6 805.0,318.5C806.4,317.4 807.5,316.4 808.7,316.5C809.9,316.6 811.1,317.8 812.3,319.0C813.5,320.2 814.6,323.2 816.0,323.9C817.4,324.6 819.3,323.0 820.9,323.4C822.5,323.8 824.1,325.0 825.7,326.3C827.3,327.6 829.1,330.0 830.6,331.2C832.1,332.4 833.4,334.0 834.8,333.6C836.1,333.2 837.4,330.0 838.7,328.7C840.0,327.4 841.5,325.8 842.8,325.8C844.1,325.8 845.3,327.6 846.5,328.7C847.7,329.8 849.0,331.7 850.1,332.4C851.2,333.1 852.1,333.7 853.3,333.1C854.5,332.5 855.9,330.3 857.4,328.7C858.9,327.1 860.7,324.9 862.3,323.4C863.9,321.9 865.8,319.5 867.2,319.5C868.6,319.5 869.6,322.5 870.8,323.4C872.0,324.3 873.3,325.8 874.5,325.1C875.7,324.4 876.9,321.0 878.1,319.0C879.3,317.0 880.6,314.0 881.8,312.9C882.9,311.8 884.0,311.4 885.0,312.2C886.0,313.0 886.8,315.8 887.9,317.8C889.0,319.8 890.5,323.1 891.5,324.3C892.5,325.5 893.1,326.4 894.0,325.1C894.9,323.8 896.1,319.2 897.1,316.5C898.1,313.8 899.1,310.5 900.1,308.8C901.1,307.1 902.0,305.9 903.0,306.3C904.0,306.7 905.2,309.2 906.2,311.2C907.2,313.2 908.3,316.9 909.3,318.5C910.3,320.1 911.1,321.2 912.2,320.9C913.3,320.6 914.8,318.9 915.9,316.5C917.0,314.1 918.0,309.5 919.1,306.8C920.2,304.1 921.8,301.6 922.3,300.5"/>
<g stroke="#000" stroke-width="2.8" stroke-linecap="round"><line x1="137.9" y1="595.0" x2="137.9" y2="588.4"/><line x1="209.3" y1="595.0" x2="209.3" y2="582.6"/><line x1="280.8" y1="595.0" x2="280.8" y2="588.4"/><line x1="352.3" y1="595.0" x2="352.3" y2="582.6"/><line x1="423.7" y1="595.0" x2="423.7" y2="588.4"/><line x1="495.2" y1="595.0" x2="495.2" y2="582.6"/><line x1="566.7" y1="595.0" x2="566.7" y2="588.4"/><line x1="638.1" y1="595.0" x2="638.1" y2="582.6"/><line x1="709.6" y1="595.0" x2="709.6" y2="588.4"/><line x1="781.1" y1="595.0" x2="781.1" y2="582.6"/><line x1="852.5" y1="595.0" x2="852.5" y2="588.4"/></g>
<rect x="66.4" y="3.5" width="857.6" height="591.5" fill="none" stroke="#000" stroke-width="3.6" stroke-linejoin="round"/>
<g font-size="25px" fill="#000"><text x="66.4" y="627.2" text-anchor="middle">3500</text><text x="209.3" y="627.2" text-anchor="middle">3000</text><text x="352.3" y="627.2" text-anchor="middle">2500</text><text x="495.2" y="627.2" text-anchor="middle">2000</text><text x="638.1" y="627.2" text-anchor="middle">1500</text><text x="781.1" y="627.2" text-anchor="middle">1000</text><text x="924.0" y="627.2" text-anchor="middle">500</text></g>
<rect x="576.3" y="432.3" width="340.4" height="131.6" fill="url(#st)" stroke="#333" stroke-width="1.1"/>
<g stroke-width="3" stroke-linecap="round">
<line x1="599.5" y1="455.7" x2="642.5" y2="455.7" stroke="#000"/>
<line x1="599.5" y1="487.2" x2="642.5" y2="487.2" stroke="#f00"/>
<line x1="599.5" y1="519.1" x2="642.5" y2="519.1" stroke="#0000f0"/>
<line x1="599.5" y1="551.5" x2="642.5" y2="551.5" stroke="#00f000"/>
</g>
<g font-size="25.6px" fill="#000" word-spacing="1">
<text x="649.5" y="462.4">70A</text>
<text x="649.5" y="493.9">70A+0.2% GO</text>
<text x="649.5" y="525.6">70A+5% SBS</text>
<text x="649.5" y="558">70A+5% SBS+0.2% GO</text>
</g>
<text font-size="46.3px" fill="#000" x="302.6" y="705.5">Wavenumber (cm<tspan dy="-15.3">-1</tspan><tspan dy="15.3">)</tspan></text>
<text font-size="46.3px" fill="#000" transform="translate(34.7,446.9) rotate(-90)">Transportation</text>
</svg>
</body></html>
